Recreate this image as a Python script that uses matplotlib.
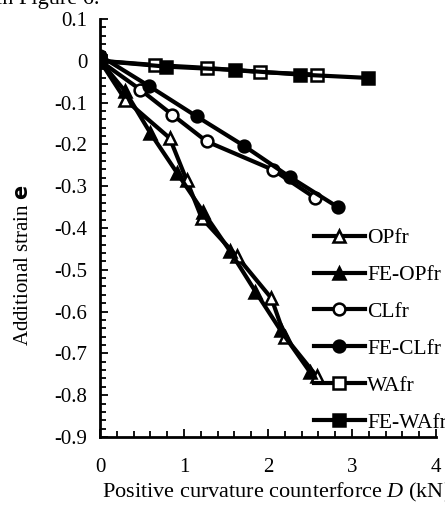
import matplotlib
matplotlib.use('Agg')
import matplotlib.pyplot as plt
from matplotlib.ticker import MultipleLocator

plt.rcParams['font.family'] = ['Liberation Serif', 'DejaVu Sans']
plt.rcParams['mathtext.fontset'] = 'custom'
plt.rcParams['mathtext.rm'] = 'Liberation Serif'
plt.rcParams['mathtext.it'] = 'Liberation Serif:italic'
plt.rcParams['mathtext.bf'] = 'DejaVu Sans:bold'

opfr_x = [0, 0.30, 0.83, 1.03, 1.21, 1.63, 2.04, 2.20, 2.58]
opfr_y = [0, -0.093, -0.185, -0.285, -0.376, -0.468, -0.568, -0.660, -0.755]
fe_opfr_x = [0, 0.30, 0.60, 0.92, 1.23, 1.55, 1.85, 2.15, 2.50]
fe_opfr_y = [0, -0.073, -0.173, -0.269, -0.362, -0.456, -0.552, -0.645, -0.745]
clfr_x = [0, 0.48, 0.86, 1.27, 2.06, 2.56]
clfr_y = [0, -0.069, -0.129, -0.193, -0.261, -0.328]
fe_clfr_x = [0, 0.58, 1.15, 1.71, 2.26, 2.83]
fe_clfr_y = [0.012, -0.060, -0.133, -0.203, -0.278, -0.350]
wafr_x = [0, 0.65, 1.27, 1.90, 2.58]
wafr_y = [0, -0.010, -0.017, -0.027, -0.033]
fe_wafr_x = [0, 0.79, 1.61, 2.38, 3.19]
fe_wafr_y = [0, -0.014, -0.022, -0.033, -0.041]

series = [
    (opfr_x, opfr_y, 'OPfr', '^', 'white'),
    (fe_opfr_x, fe_opfr_y, 'FE-OPfr', '^', 'black'),
    (clfr_x, clfr_y, 'CLfr', 'o', 'white'),
    (fe_clfr_x, fe_clfr_y, 'FE-CLfr', 'o', 'black'),
    (wafr_x, wafr_y, 'WAfr', 's', 'white'),
    (fe_wafr_x, fe_wafr_y, 'FE-WAfr', 's', 'black'),
]

fig = plt.figure(figsize=(4.45, 5.09), dpi=100)
ax = fig.add_axes([0.2247, 0.1415, 0.7553, 0.8212])

for x, y, lab, m, fc in series:
    ax.plot(x, y, color='black', linewidth=3.0, marker=m, markersize=8.5,
            markerfacecolor=fc, markeredgecolor='black', markeredgewidth=1.8,
            label=lab)

ax.set_xlim(0, 4)
ax.set_ylim(-0.9, 0.1)
ax.xaxis.set_major_locator(MultipleLocator(1))
ax.xaxis.set_minor_locator(MultipleLocator(0.2))
ax.yaxis.set_minor_locator(MultipleLocator(0.02))
ax.set_yticks([0.1, 0, -0.1, -0.2, -0.3, -0.4, -0.5, -0.6, -0.7, -0.8, -0.9])
ax.set_yticklabels(['0.1', '0', '-0.1', '-0.2', '-0.3', '-0.4', '-0.5', '-0.6', '-0.7', '-0.8', '-0.9'])
ax.tick_params(which='major', direction='in', length=6, width=1.3, labelsize=15)
ax.tick_params(axis='y', which='major', pad=9)
ax.tick_params(axis='x', which='major', pad=15)
ax.tick_params(which='minor', direction='in', length=4.5, width=1.3)
ax.spines['top'].set_visible(False)
ax.spines['right'].set_visible(False)
ax.spines['left'].set_linewidth(2)
ax.spines['bottom'].set_linewidth(2)

ax.set_xlabel('Positive curvature counterforce $D$ (kN)', fontsize=16)
ax.xaxis.set_label_coords(0.527, -0.105)
ax.set_ylabel(r'Additional strain $\mathbf{e}$', fontsize=15)
ax.yaxis.set_label_coords(-0.2, 0.41)

ax.legend(loc='upper left', bbox_to_anchor=(0.61, 0.52), frameon=False,
          fontsize=15.5, handlelength=2.4, handletextpad=0.1,
          labelspacing=0.78, numpoints=1, borderaxespad=0)

fig.text(-0.01, 0.992, 'in Figure 6.', fontsize=16, ha='left', va='baseline')

fig.savefig('out.png', dpi=100)
